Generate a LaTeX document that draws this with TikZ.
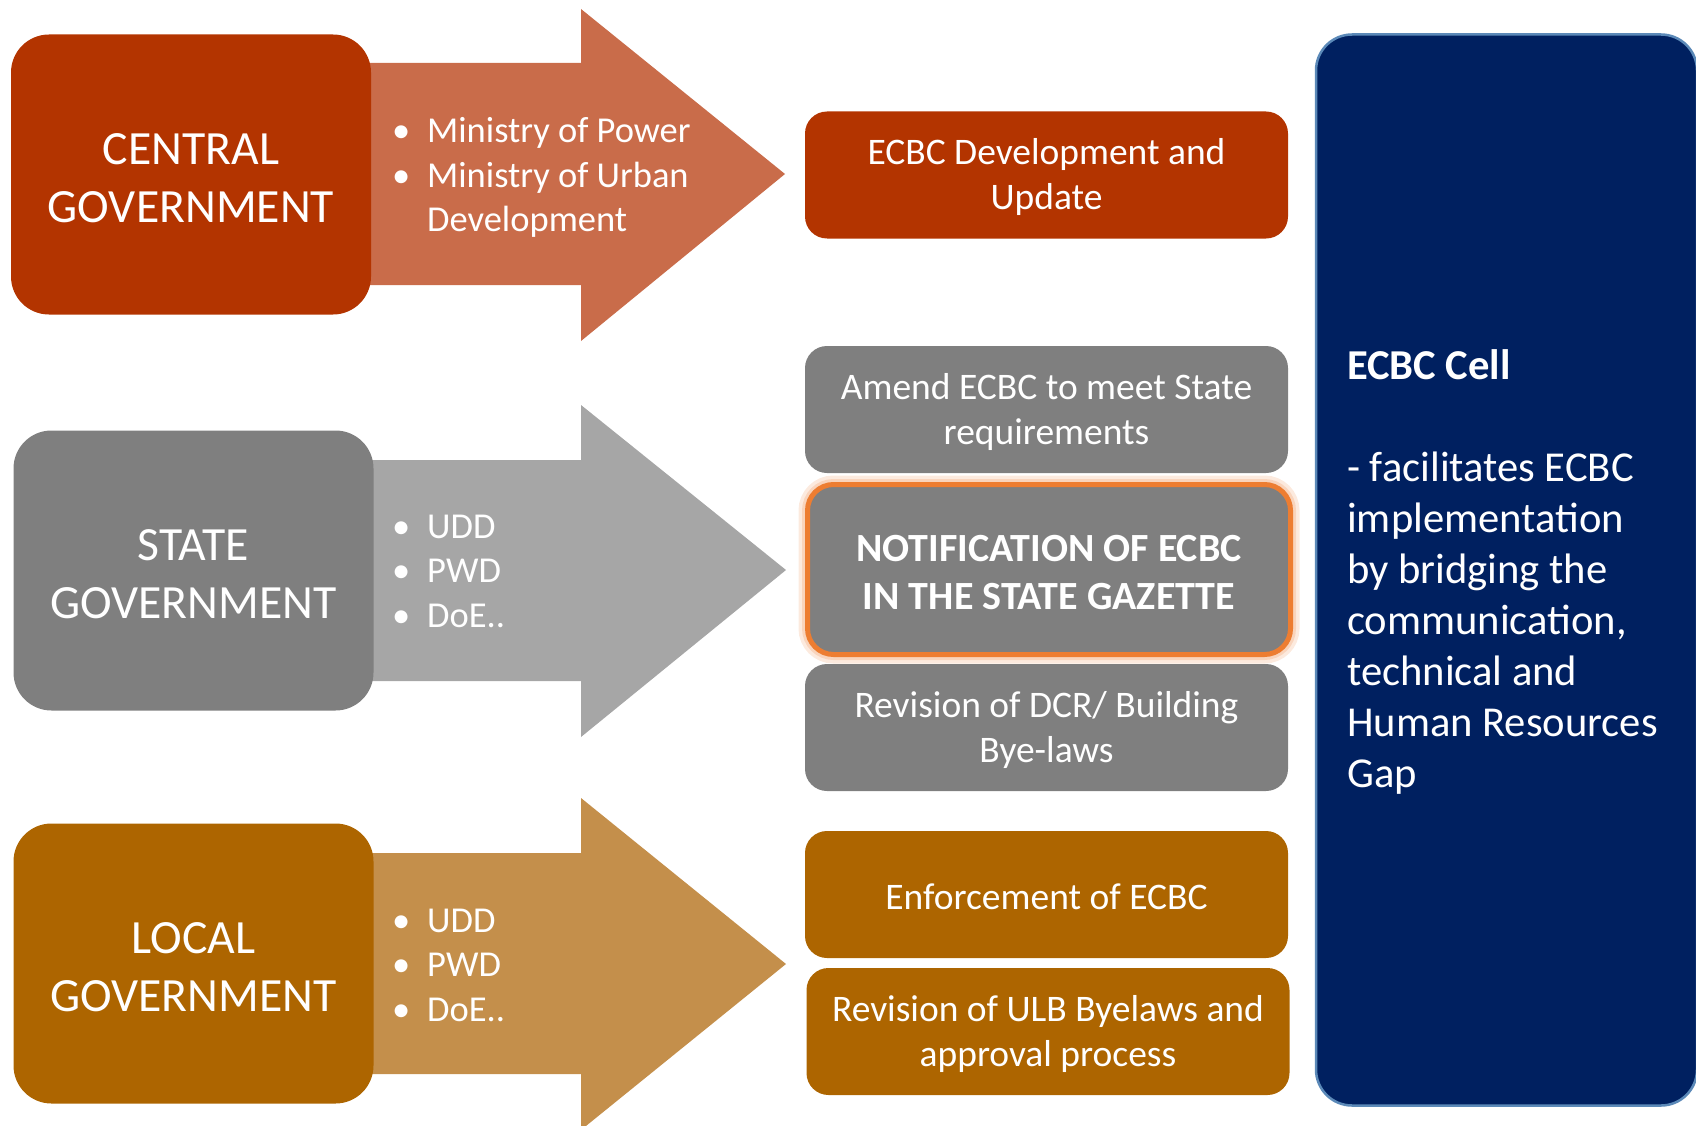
\documentclass[tikz,border=0pt]{standalone}
\usepackage{fontspec}
\setmainfont{Carlito}

\definecolor{rust}{HTML}{B33400}
\definecolor{rustlight}{HTML}{C96C4A}
\definecolor{slate}{HTML}{7F7F7F}
\definecolor{slatelight}{HTML}{A6A6A6}
\definecolor{ochre}{HTML}{AD6500}
\definecolor{ochrelight}{HTML}{C48F4B}
\definecolor{navy}{HTML}{002060}
\definecolor{navyedge}{HTML}{5B89B8}
\definecolor{flame}{HTML}{ED7D31}
\definecolor{flameglow}{HTML}{F8CBAD}

% pushes the text block a little down inside its box
\newcommand{\lift}{\rule{0pt}{\dimexpr\fontcharht\font`d+5pt\relax}}
\newcommand{\itm}{\makebox[35pt][l]{\textbullet}}

\begin{document}
\begin{tikzpicture}[x=1pt,y=-1pt]
			\tikzstyle{govbox} = [
				rounded corners = 38pt, inner sep = 0pt,
				minimum width = 360pt, minimum height = 280pt,
				text = white, align = center,
				font = \fontsize{47.7}{58}\selectfont
			]
			\tikzstyle{taskbox} = [
				rounded corners = 22pt, inner sep = 0pt,
				minimum width = 483pt, minimum height = 127pt,
				text = white, align = center,
				font = \fontsize{37.5}{45}\selectfont
			]
			\tikzstyle{bullets} = [
				anchor = west, inner sep = 0pt, text = white, align = left,
				font = \fontsize{36.5}{44.5}\selectfont
			]
			\useasboundingbox (0,0) rectangle (1696,1126);
			% block arrows behind the boxes
			\fill[rustlight] (191,63) -- (581,63) -- (581,9) -- (785,174) -- (581,341) -- (581,285) -- (191,285) -- cycle;
			\fill[slatelight] (193,460) -- (581,460) -- (581,405) -- (786,570) -- (581,737) -- (581,681) -- (193,681) -- cycle;
			\fill[ochrelight] (193,853) -- (581,853) -- (581,798) -- (786,964) -- (581,1130) -- (581,1074) -- (193,1074) -- cycle;
			% government levels
			\node[govbox, fill = rust] (central) at (191,174.5) {\lift CENTRAL\\GOVERNMENT};
			\node[govbox, fill = slate] (state) at (193.5,570.5) {\lift STATE\\GOVERNMENT};
			\node[govbox, fill = ochre] (local) at (193.5,963.5) {\lift LOCAL\\GOVERNMENT};
			\node[bullets] (centralbodies) at (392,175) {\lift\itm Ministry of Power\\\itm Ministry of Urban\\\hspace*{35pt}Development};
			\node[bullets] (statebodies) at (392,571) {\itm UDD\\\itm PWD\\\itm DoE..};
			\node[bullets] (localbodies) at (392,965) {\itm UDD\\\itm PWD\\\itm DoE..};
			% tasks
			\node[taskbox, fill = rust] (dev) at (1046.5,175) {\lift ECBC Development and\\Update};
			\node[taskbox, fill = slate, draw = flame, line width = 5pt,
				rounded corners = 26pt, minimum width = 483pt, minimum height = 170pt,
				preaction = {draw = flameglow, line width = 18pt, opacity = .4},
				preaction = {draw = flameglow, line width = 11pt, opacity = .7},
				font = \fontsize{40}{48}\selectfont\bfseries] (notify) at (1049,569.5) {\lift NOTIFICATION OF ECBC\\IN THE STATE GAZETTE};
			\node[taskbox, fill = slate] (amend) at (1046.5,409.5) {\lift Amend ECBC to meet State\\requirements};
			\node[taskbox, fill = slate] (dcr) at (1046.5,727.5) {\lift Revision of DCR/ Building\\Bye-laws};
			\node[taskbox, fill = ochre] (enforce) at (1046.5,894.5) {\lift Enforcement of ECBC};
			\node[taskbox, fill = ochre] (ulb) at (1048,1031.5) {\lift Revision of ULB Byelaws and\\approval process};
			% ECBC cell
			\node[rounded corners = 36pt, fill = navy, draw = navyedge, line width = 2.5pt,
				minimum width = 381pt, minimum height = 1071pt] (cell) at (1506.5,570) {};
			\node[anchor = west, inner sep = 0pt, text = white, align = left,
				font = \fontsize{42.6}{51}\selectfont] (celltext) at (1347,570)
				{\lift\textbf{ECBC Cell}\\\mbox{}\\- facilitates ECBC\\implementation\\by bridging the\\communication,\\technical and\\Human Resources\\Gap};
		\end{tikzpicture}
\end{document}
